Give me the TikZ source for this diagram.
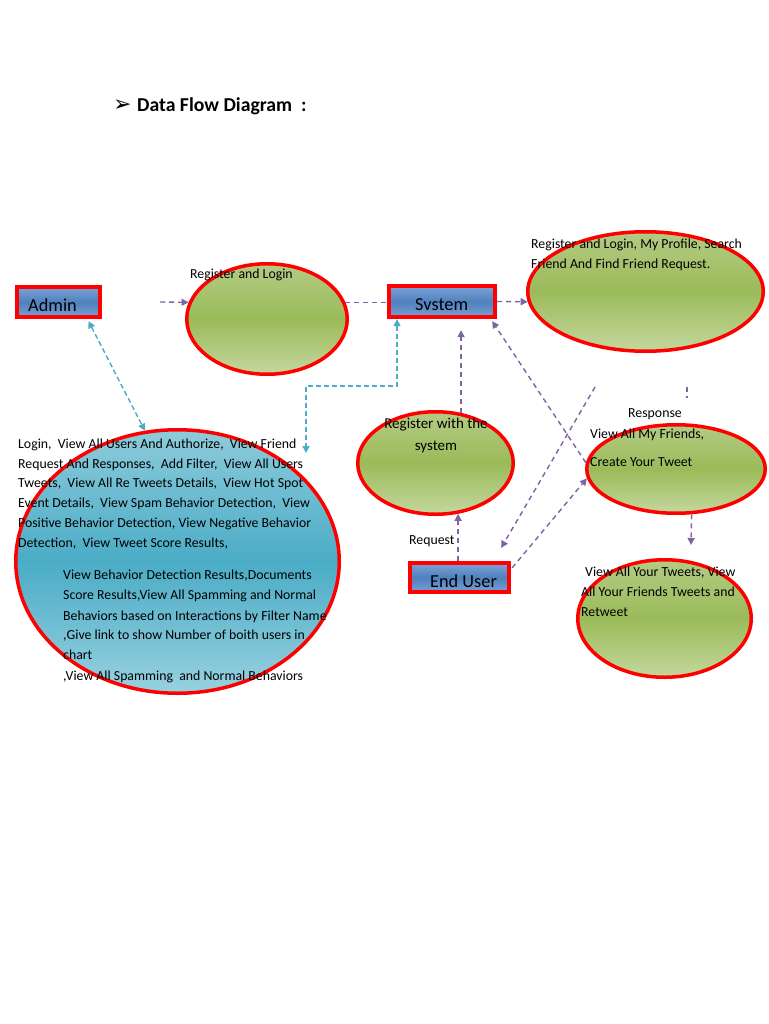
\documentclass[tikz,border=0pt]{standalone}
\usepackage{fontspec}
\setmainfont{Carlito}
\newfontfamily\dejavu{DejaVu Sans}
\usetikzlibrary{arrows.meta,shadows,calc,shapes.geometric}
\definecolor{purp}{HTML}{8064A2}
\definecolor{cyanl}{HTML}{4BACC6}
\definecolor{redb}{HTML}{FF0000}
\definecolor{grtop}{HTML}{B3CB84}
\definecolor{grmid}{HTML}{9BBB59}
\definecolor{grbot}{HTML}{C4D79E}
\definecolor{bltop}{HTML}{7FA3D8}
\definecolor{blmid}{HTML}{4F81BD}
\definecolor{blbot}{HTML}{7A9ED6}
\definecolor{cytop}{HTML}{8ECBDB}
\definecolor{cymid}{HTML}{4BACC6}
\definecolor{cybot}{HTML}{98D1E0}
\definecolor{navyshadow}{HTML}{1F3A60}
\begin{document}
\begin{tikzpicture}[x=1pt,y=-1pt,
  boxnode/.style 2 args={rectangle, draw=redb, line width=3.8pt, top color=bltop, bottom color=blbot, middle color=blmid,
    minimum width=#1, minimum height=#2, inner sep=0,
    drop shadow={shadow xshift=2pt, shadow yshift=-2pt, fill=navyshadow, opacity=1}},
  proc/.style 2 args={ellipse, draw=redb, line width=3.5pt, top color=grtop, bottom color=grbot, middle color=grmid,
    minimum width=#1, minimum height=#2, inner sep=0},
  parrow/.style={draw=purp, line width=1.4pt, dash pattern=on 5pt off 4pt, -{Triangle[length=7pt,width=7pt]}},
  pline/.style={draw=purp, line width=1.4pt, dash pattern=on 5pt off 4pt},
  carrow/.style={draw=cyanl, line width=1.4pt, dash pattern=on 5pt off 3pt, {Triangle[length=7pt,width=7pt]}-{Triangle[length=7pt,width=7pt]}},
  txt/.style={anchor=base west, inner sep=0, font=\fontsize{13.8}{16}\selectfont},
  ctxt/.style={anchor=base, inner sep=0, font=\fontsize{15}{17}\selectfont},
  btxt/.style={anchor=base west, inner sep=0, font=\fontsize{18.3}{20}\selectfont}
]
\useasboundingbox[fill=white] (0,0) rectangle (768,1024);

% title
\node[anchor=base west, inner sep=0, font=\dejavu\bfseries\fontsize{22}{24}\selectfont] (bullet) at (113,112) {➢};
\node[anchor=base west, inner sep=0, font=\fontsize{19.7}{22}\selectfont\bfseries] (title) at (137,112) {Data Flow Diagram};
\node[anchor=base west, inner sep=0, font=\fontsize{19.7}{22}\selectfont\bfseries] (colon) at (301,112) {:};

% shapes
\node[boxnode={83.5pt}{30.5pt}] (admin) at (58.5,302) {};
\node[boxnode={106.5pt}{31.5pt}] (system) at (442,301.5) {};
\node[boxnode={99.5pt}{29.5pt}] (eu) at (459.5,577.5) {};

\node[proc={160.5pt}{110.5pt}] (rl) at (267,319) {};
\node[proc={235.5pt}{119.5pt}] (tr) at (645.5,291.5) {};
\node[proc={155.5pt}{102.5pt}] (rws) at (435.5,463) {};
\node[proc={178.5pt}{88.5pt}] (mf) at (676,469) {};
\node[proc={173.5pt}{117.5pt}] (tw) at (664.5,618.5) {};
\node[ellipse, draw=redb, line width=3.5pt, top color=cytop, bottom color=cybot, middle color=cymid,
  minimum width=323.5pt, minimum height=263.5pt, inner sep=0] (be) at (177.5,561.5) {};

% purple connectors
\coordinate (a1s) at (160,302);
\draw[parrow] (a1s) -- (rl.168);
\draw[pline] (rl.12) -- (rl.12 -| system.west);
\draw[parrow] (system.east) -- (tr.185);
\draw[parrow, shorten >=11pt] (rws.63) -- (rws.63 |- system.south);
\draw[parrow] (mf.176) -- ($(system.south east)+(-5,2)$);
\coordinate (a6s) at (595,387);
\draw[parrow] (a6s) -- ($(eu.north east)+(-10,-13)$);
\draw[parrow] ($(eu.north east)+(1,7)$) -- (mf.186);
\coordinate (a8s) at (687,387);
\coordinate (a8e) at (687,398);
\draw[pline] (a8s) -- (a8e);
\coordinate (a9e) at (691,545);
\draw[parrow] (mf.-71) -- (a9e);
\draw[parrow] (eu.north -| rws.-66) -- (rws.-66);

% cyan connectors
\draw[carrow] ($(admin.south)+(30,2)$) -- (be.104);
\coordinate (elbow) at (306,386);
\coordinate (a12e) at (306,453);
\draw[carrow] ($(system.south)+(-45,0)$) |- (elbow) -- (a12e);

% box texts
\node[btxt] (admint) at (28,311) {Admin};
\node[btxt] (systemt) at (415,310) {Svstem};
\node[btxt] (eut) at (430,587) {End User};

% ellipse texts
\node[txt] (rlt) at (190,278) {Register and Login};
\node[txt] (trt1) at (531,248) {Register and Login, My Profile, Search};
\node[txt] (trt2) at (531,268) {Friend And Find Friend Request.};
\node[ctxt] (rwst1) at (436,428) {Register with the};
\node[ctxt] (rwst2) at (436,450) {system};
\node[txt] (resp) at (628,417) {Response};
\node[txt] (mft1) at (590,438) {View All My Friends,};
\node[txt] (mft2) at (590,466) {Create Your Tweet};
\node[txt] (req) at (409,544) {Request};
\node[txt] (twt1) at (585,576) {View All Your Tweets, View};
\node[txt] (twt2) at (581,596) {All Your Friends Tweets and};
\node[txt] (twt3) at (581,616) {Retweet};

\node[txt] (b1) at (18,448) {Login,\ \ View All Users And Authorize,\ \ View Friend};
\node[txt] (b2) at (18,468) {Request And Responses,\ \ Add Filter,\ \ View All Users};
\node[txt] (b3) at (18,487.5) {Tweets,\ \ View All Re Tweets Details,\ \ View Hot Spot};
\node[txt] (b4) at (18,507) {Event Details,\ \ View Spam Behavior Detection,\ \ View};
\node[txt] (b5) at (18,527) {Positive Behavior Detection, View Negative Behavior};
\node[txt] (b6) at (18,547) {Detection,\ \ View Tweet Score Results,};
\node[txt] (c1) at (63,579) {View Behavior Detection Results,Documents};
\node[txt] (c2) at (63,599) {Score Results,View All Spamming and Normal};
\node[txt] (c3) at (63,620) {Behaviors based on Interactions by Filter Name};
\node[txt] (c4) at (63,639) {,Give link to show Number of boith users in};
\node[txt] (c5) at (63,659) {chart};
\node[txt] (c6) at (63,680) {,View All Spamming\ \ and Normal Behaviors};
\end{tikzpicture}
\end{document}
